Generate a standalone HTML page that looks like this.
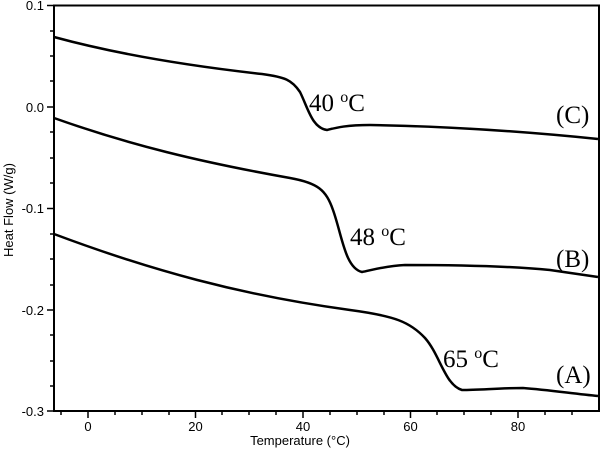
<!DOCTYPE html>
<html><head><style>body{margin:0;background:#fff}svg{display:block}</style></head><body>
<svg width="605" height="450" xmlns="http://www.w3.org/2000/svg" font-family="Liberation Sans, sans-serif">
<rect width="605" height="450" fill="#fff"/>
<g stroke="#000" stroke-width="2" fill="none">
<rect x="54" y="5.5" width="545" height="405.5"/>
</g>
<g stroke="#000" stroke-width="1.5">
<line x1="54" y1="5.5" x2="47" y2="5.5"/><line x1="54" y1="107" x2="47" y2="107"/><line x1="54" y1="208.5" x2="47" y2="208.5"/><line x1="54" y1="310" x2="47" y2="310"/><line x1="54" y1="411" x2="47" y2="411"/>
<line x1="54" y1="31" x2="50" y2="31"/><line x1="54" y1="56" x2="50" y2="56"/><line x1="54" y1="81" x2="50" y2="81"/>
<line x1="54" y1="132" x2="50" y2="132"/><line x1="54" y1="158" x2="50" y2="158"/><line x1="54" y1="183" x2="50" y2="183"/>
<line x1="54" y1="234" x2="50" y2="234"/><line x1="54" y1="259" x2="50" y2="259"/><line x1="54" y1="285" x2="50" y2="285"/>
<line x1="54" y1="335" x2="50" y2="335"/><line x1="54" y1="361" x2="50" y2="361"/><line x1="54" y1="386" x2="50" y2="386"/>
<line x1="88" y1="411" x2="88" y2="418"/><line x1="195.5" y1="411" x2="195.5" y2="418"/><line x1="303" y1="411" x2="303" y2="418"/><line x1="410.5" y1="411" x2="410.5" y2="418"/><line x1="518" y1="411" x2="518" y2="418"/>
<line x1="61" y1="411" x2="61" y2="415"/><line x1="115" y1="411" x2="115" y2="415"/><line x1="142" y1="411" x2="142" y2="415"/><line x1="169" y1="411" x2="169" y2="415"/>
<line x1="222" y1="411" x2="222" y2="415"/><line x1="249" y1="411" x2="249" y2="415"/><line x1="276" y1="411" x2="276" y2="415"/>
<line x1="330" y1="411" x2="330" y2="415"/><line x1="357" y1="411" x2="357" y2="415"/><line x1="384" y1="411" x2="384" y2="415"/>
<line x1="437" y1="411" x2="437" y2="415"/><line x1="464" y1="411" x2="464" y2="415"/><line x1="491" y1="411" x2="491" y2="415"/>
<line x1="545" y1="411" x2="545" y2="415"/><line x1="572" y1="411" x2="572" y2="415"/>
</g>
<g font-size="13" fill="#000" text-anchor="end">
<text x="44" y="10">0.1</text><text x="44" y="112">0.0</text><text x="44" y="213">-0.1</text><text x="44" y="315">-0.2</text><text x="44" y="416">-0.3</text>
</g>
<g font-size="13" fill="#000" text-anchor="middle">
<text x="88" y="431">0</text><text x="195.5" y="431">20</text><text x="303" y="431">40</text><text x="410.5" y="431">60</text><text x="518" y="431">80</text>
<text x="300" y="445">Temperature (°C)</text>
<text transform="translate(13,210) rotate(-90)">Heat Flow (W/g)</text>
</g>
<g stroke="#000" stroke-width="2.5" fill="none">
<path d="M54,37 C120,55 190,66 262,74 C285,77 292,80 300,92 C308,108 312,128 327,130 C335,128 345,125 370,125 C430,126 510,130 598,139"/>
<path d="M54,118 C130,145 200,162 290,178 C318,183 326,190 333,210 C342,235 345,268 362,272 C372,270 385,266 405,265 C460,265 510,266 550,270 C570,273 585,275 598,277"/>
<path d="M54,234 C150,270 240,295 350,310 C395,316 410,322 425,338 C440,355 445,385 462,390 C480,390 500,388 523,388 C550,390 575,394 598,396"/>
</g>
<g font-family="Liberation Serif, serif" font-size="25" fill="#000">
<text x="309" y="111">40 <tspan font-size="16" dy="-9">o</tspan><tspan dy="9">C</tspan></text>
<text x="350" y="245">48 <tspan font-size="16" dy="-9">o</tspan><tspan dy="9">C</tspan></text>
<text x="443" y="367">65 <tspan font-size="16" dy="-9">o</tspan><tspan dy="9">C</tspan></text>
<text x="556" y="123">(C)</text>
<text x="556" y="267">(B)</text>
<text x="556" y="383">(A)</text>
</g>
</svg>
</body></html>
